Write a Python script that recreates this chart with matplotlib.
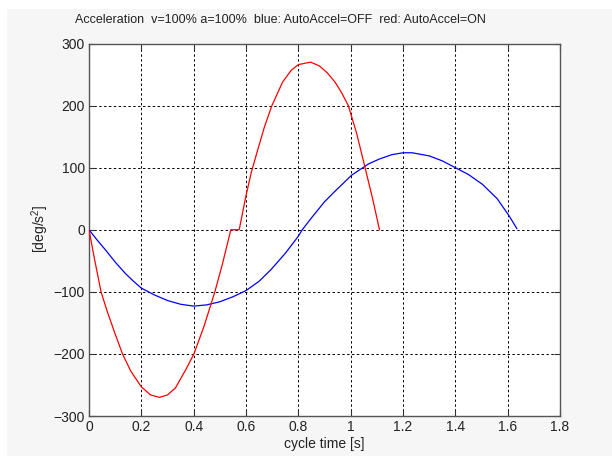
import matplotlib
matplotlib.use("Agg")
import matplotlib.pyplot as plt
from matplotlib.patches import Rectangle

# ---- data ----
blue_t = [0.0, 0.03, 0.062, 0.10, 0.138, 0.17, 0.20, 0.25, 0.30, 0.35, 0.40, 0.45,
          0.50, 0.55, 0.60, 0.65, 0.696, 0.75, 0.799, 0.815, 0.85, 0.90, 0.94,
          1.004, 1.068, 1.11, 1.158, 1.20, 1.235, 1.30, 1.35, 1.40, 1.45, 1.504,
          1.56, 1.606, 1.635]
blue_y = [0.0, -16, -32, -52, -70, -83, -94, -105, -114, -120, -123, -121,
          -116, -108, -98, -83, -64, -38, -11, 0, 19, 45, 62,
          88, 106, 114, 121, 124, 124, 119, 111, 100, 89, 73,
          50, 22, 2]

red_t = [0.0, 0.02, 0.046, 0.07, 0.10, 0.128, 0.16, 0.20, 0.235, 0.269, 0.30,
         0.33, 0.369, 0.401, 0.44, 0.481, 0.51, 0.542, 0.574, 0.60, 0.62, 0.645,
         0.67, 0.699, 0.74, 0.773, 0.80, 0.847, 0.88, 0.91, 0.94, 0.965, 0.991,
         1.023, 1.055, 1.085, 1.11]
red_y = [0.0, -45, -100, -132, -168, -200, -228, -253, -266, -270, -266,
         -255, -226, -200, -155, -100, -55, 0, 0, 55, 92, 129,
         165, 200, 238, 257, 266, 270, 264, 253, 238, 221, 200,
         155, 100, 48, 0]

title_text = "Acceleration  v=100% a=100%  blue: AutoAccel=OFF  red: AutoAccel=ON"
xlabel_text = "cycle time [s]"
ylabel_text = "[deg/s$^2$]"
xticks = [0, 0.2, 0.4, 0.6, 0.8, 1.0, 1.2, 1.4, 1.6, 1.8]
xticklabels = ["0", "0.2", "0.4", "0.6", "0.8", "1", "1.2", "1.4", "1.6", "1.8"]
yticks = [-300, -200, -100, 0, 100, 200, 300]

W, H = 612, 457
plt.rcParams['font.family'] = ['Liberation Sans', 'DejaVu Sans']
plt.rcParams['mathtext.fontset'] = 'custom'
plt.rcParams['mathtext.rm'] = 'Liberation Sans'

fig = plt.figure(figsize=(W / 100, H / 100), dpi=100)
fig.patch.set_facecolor('white')
fig.add_artist(Rectangle((7 / W, 1 / H), (W - 7) / W, (H - 9 - 1) / H,
                         transform=fig.transFigure, facecolor='#f6f6f6',
                         edgecolor='none', zorder=-10))

l, r, t, b = 89, 560, 43.5, 416
ax = fig.add_axes([l / W, (H - b) / H, (r - l) / W, (b - t) / H])
ax.set_facecolor('white')

ax.plot(blue_t, blue_y, color='#0000ff', lw=0.9, zorder=3)
ax.plot(red_t, red_y, color='#ff0000', lw=0.9, zorder=3)

ax.set_xlim(0, 1.8)
ax.set_ylim(-300, 300)
ax.set_xticks(xticks)
ax.set_xticklabels(xticklabels)
ax.set_yticks(yticks)
ax.tick_params(direction='in', length=4, width=0.8, color='#333333',
               labelsize=10, labelcolor='#222222', pad=3,
               top=True, right=True)
ax.grid(True, color='black', linestyle=(0, (2.5, 2.5)), linewidth=0.7)
for s in ax.spines.values():
    s.set_color('#555555')
    s.set_linewidth(1.0)

fig.text(75 / W, 1 - 20 / H, title_text, ha='left', va='center',
         fontsize=9, color='#222222')
ax.set_xlabel(xlabel_text, fontsize=10, color='#222222', labelpad=2)
fig.text(40 / W, 1 - 229 / H, ylabel_text, rotation=90, ha='center',
         va='center', fontsize=10, color='#222222')

fig.savefig('out.png', dpi=100, facecolor=fig.get_facecolor())
